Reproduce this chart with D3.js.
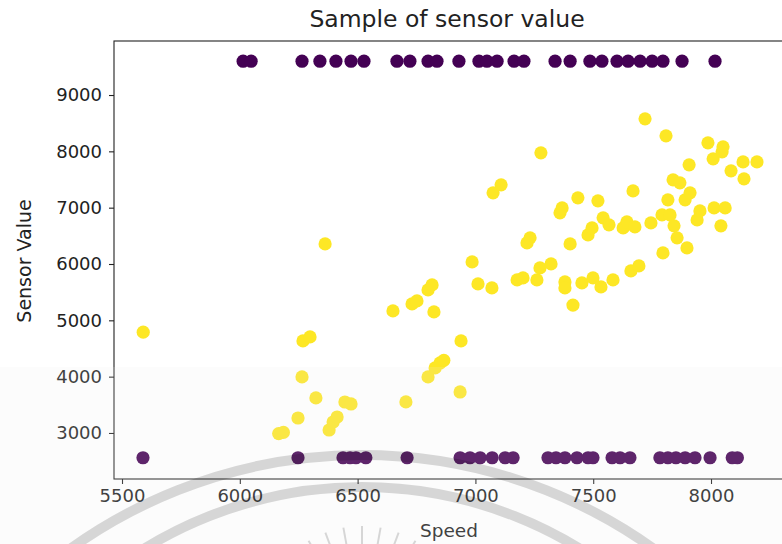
<!DOCTYPE html>
<html>
<head>
<meta charset="utf-8">
<script src="https://cdn.jsdelivr.net/npm/d3@7"></script>
<style>
  html, body { margin: 0; padding: 0; background: #fff; }
  svg { display: block; }
  text { font-family: "DejaVu Sans", sans-serif; fill: #222; }
</style>
</head>
<body>
<svg id="chart" width="782" height="544"></svg>
<script>
// Class 0 readings: sensor saturates high or low
const highSpeed = [6014, 6048, 6264, 6340, 6408, 6472, 6527, 6667, 6722, 6799, 6837, 6930,
  7015, 7049, 7092, 7164, 7206, 7338, 7402, 7486, 7537, 7601, 7648, 7699, 7750, 7796, 7877, 8017];
const highValue = [9600, 9600, 9600, 9600, 9600, 9600, 9600, 9600, 9600, 9600, 9600, 9600,
  9600, 9600, 9600, 9600, 9600, 9600, 9600, 9600, 9600, 9600, 9600, 9600, 9600, 9600, 9600, 9600];

const lowSpeed = [5589, 6247, 6438, 6468, 6493, 6535, 6710, 6935, 6977, 7020, 7071, 7126, 7160,
  7308, 7342, 7380, 7431, 7478, 7499, 7580, 7614, 7656, 7783, 7817, 7851, 7890, 7932, 7996, 8090, 8112];
const lowValue = [2560, 2560, 2560, 2560, 2560, 2560, 2560, 2560, 2560, 2560, 2560, 2560, 2560,
  2560, 2560, 2560, 2560, 2560, 2560, 2560, 2560, 2560, 2560, 2560, 2560, 2560, 2560, 2560, 2560, 2560];

// Class 1 readings: sensor tracks speed
const okSpeed = [5590, 6165, 6185, 6247, 6264, 6268, 6298, 6323, 6379, 6396, 6413, 6446, 6472,
  6362, 6650, 6731, 6752, 6705, 6799, 6816, 6824, 6799, 6829, 6850, 6866, 6939, 6935, 6986,
  7011, 7070, 7075, 7109, 7177, 7202, 7219, 7232, 7261, 7274, 7321, 7278, 7359, 7368, 7380,
  7380, 7402, 7414, 7435, 7452, 7478, 7495, 7499, 7533, 7520, 7542, 7567, 7584, 7627, 7643,
  7677, 7660, 7694, 7669, 7720, 7745, 7792, 7826, 7796, 7809, 7817, 7839, 7868, 7843, 7856,
  7890, 7911, 7898, 7907, 7941, 7953, 7987, 8009, 8047, 8051, 8013, 8060, 8042, 8085, 8136,
  8140, 8195];
const okValue = [4790, 2990, 3010, 3266, 3995, 4634, 4705, 3622, 3053, 3195, 3284, 3550, 3515,
  6357, 5167, 5291, 5345, 3551, 5540, 5629, 5149, 3995, 4155, 4243, 4290, 4634, 3728, 6037,
  5646, 5575, 7263, 7405, 5717, 5753, 6375, 6464, 5717, 5931, 6002, 7973, 6908, 6996, 5682,
  5575, 6357, 5270, 7174, 5664, 6517, 6641, 5753, 5593, 7121, 6819, 6695, 5717, 6641, 6748,
  6659, 5877, 5966, 7298, 8577, 6730, 6872, 6872, 6197, 8275, 7139, 7494, 7441, 6677, 6464,
  7139, 7263, 6286, 7760, 6783, 6943, 8151, 7867, 7991, 8080, 6996, 6996, 6677, 7654, 7813,
  7512, 7813];

const xTicks = [5500, 6000, 6500, 7000, 7500, 8000];
const yTicks = [3000, 4000, 5000, 6000, 7000, 8000, 9000];

const svg = d3.select("#chart");
const plot = { left: 114, right: 789, top: 41, bottom: 479 };

const x = d3.scaleLinear().domain([5466, 8331]).range([plot.left, plot.right]);
const y = d3.scaleLinear().domain([2183, 9959]).range([plot.bottom, plot.top]);

const purple = "#440154", yellow = "#fde725";

// points
const points = [];
highSpeed.forEach((s, i) => points.push({ s, v: highValue[i], c: purple }));
okSpeed.forEach((s, i) => points.push({ s, v: okValue[i], c: yellow }));
lowSpeed.forEach((s, i) => points.push({ s, v: lowValue[i], c: purple }));

svg.append("g")
  .selectAll("circle")
  .data(points)
  .join("circle")
  .attr("cx", d => x(d.s))
  .attr("cy", d => y(d.v))
  .attr("r", 6.6)
  .attr("fill", d => d.c);

// axes
const xAxis = svg.append("g")
  .attr("transform", `translate(0,${plot.bottom})`)
  .call(d3.axisBottom(x).tickValues(xTicks).tickFormat(d3.format("d")).tickSize(5).tickPadding(5).tickSizeOuter(0));
const yAxis = svg.append("g")
  .attr("transform", `translate(${plot.left},0)`)
  .call(d3.axisLeft(y).tickValues(yTicks).tickFormat(d3.format("d")).tickSize(5).tickPadding(7).tickSizeOuter(0));
[xAxis, yAxis].forEach(g => {
  g.select(".domain").remove();
  g.selectAll("line").attr("stroke", "#222").attr("stroke-width", 1.1);
  g.selectAll("text").attr("font-size", 18).attr("font-family", "DejaVu Sans").attr("fill", "#222");
});

// frame
svg.append("rect")
  .attr("x", plot.left).attr("y", plot.top)
  .attr("width", plot.right - plot.left).attr("height", plot.bottom - plot.top)
  .attr("fill", "none").attr("stroke", "#222").attr("stroke-width", 1.1);

// titles
svg.append("text")
  .attr("x", 447).attr("y", 27)
  .attr("text-anchor", "middle").attr("font-size", 23.5)
  .text("Sample of sensor value");
svg.append("text")
  .attr("x", 449).attr("y", 537)
  .attr("text-anchor", "middle").attr("font-size", 18.5)
  .text("Speed");
svg.append("text")
  .attr("transform", `translate(31,${(plot.top + plot.bottom) / 2 + 1}) rotate(-90)`)
  .attr("text-anchor", "middle").attr("font-size", 19)
  .text("Sensor Value");

// light band across the lower part of the page
svg.append("rect")
  .attr("x", 0).attr("y", 367).attr("width", 782).attr("height", 177)
  .attr("fill", "rgb(235,235,235)").attr("fill-opacity", 0.155);

// faint emblem along the bottom edge
const emblem = svg.append("g").attr("fill", "none").attr("stroke", "#000").attr("stroke-opacity", 0.15);
const cx = 362, cyOuter = 955, cyInner = 902;
emblem.append("circle").attr("cx", cx).attr("cy", cyOuter).attr("r", 500).attr("stroke-width", 10);
emblem.append("circle").attr("cx", cx).attr("cy", cyInner).attr("r", 415).attr("stroke-width", 10);
d3.range(-3, 4).forEach(k => {
  const a = k * 0.18;
  const r0 = 82, r1 = 104, oy = 630;
  emblem.append("line")
    .attr("x1", cx + r0 * Math.sin(a)).attr("y1", oy - r0 * Math.cos(a))
    .attr("x2", cx + r1 * Math.sin(a)).attr("y2", oy - r1 * Math.cos(a))
    .attr("stroke-width", 2);
});
</script>
</body>
</html>
